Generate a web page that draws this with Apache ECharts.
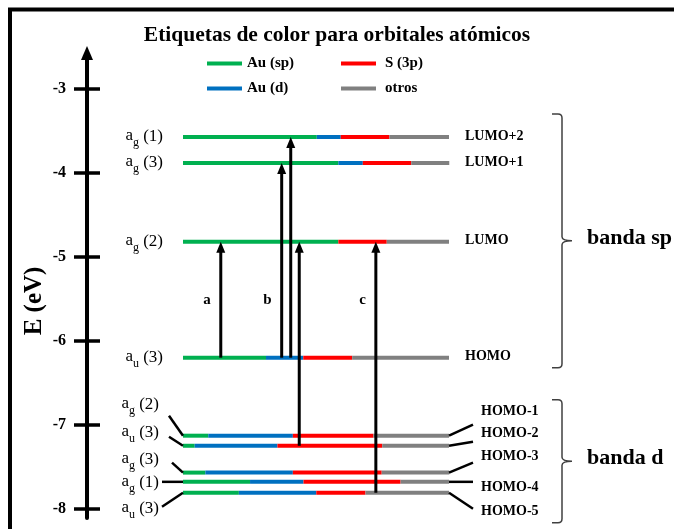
<!DOCTYPE html>
<html>
<head>
<meta charset="utf-8">
<script src="https://cdn.jsdelivr.net/npm/echarts@6/dist/echarts.min.js"></script>
<style>
  html, body { margin: 0; padding: 0; background: #fff; }
  #chart { width: 674px; height: 529px; }
</style>
</head>
<body>
<div id="chart"></div>
<script>
// ---- Molecular orbital levels (energy in eV) ----
const levelNames = ['LUMO+2', 'LUMO+1', 'LUMO', 'HOMO', 'HOMO-1', 'HOMO-2', 'HOMO-3', 'HOMO-4', 'HOMO-5'];
const levelEnergy = [-3.57, -3.88, -4.82, -6.20, -7.13, -7.25, -7.57, -7.68, -7.81];
const levelSym = ['g', 'g', 'g', 'u', 'g', 'u', 'g', 'g', 'u'];
const levelIdx = ['1', '3', '2', '3', '2', '3', '3', '1', '3'];

// Atomic-orbital makeup of each level (%)
const pctAuSp  = [50.3, 58.4, 58.4, 31.2,  9.5,  4.4,  8.4, 25.2, 21.0];
const pctAuD   = [ 9.0,  9.2,  0.0, 14.0, 31.8, 31.1, 32.9, 20.1, 29.1];
const pctS3p   = [18.3, 18.2, 18.2, 18.4, 30.3, 39.4, 33.4, 36.5, 18.5];
const pctOtros = [22.4, 14.3, 23.4, 36.4, 28.4, 25.1, 25.4, 18.2, 31.4];
const orbitalNames = ['Au (sp)', 'Au (d)', 'S (3p)', 'otros'];

// Electronic transitions
const transFrom  = ['HOMO', 'HOMO', 'HOMO', 'HOMO-2', 'HOMO-5'];
const transTo    = ['LUMO', 'LUMO+1', 'LUMO+2', 'LUMO', 'LUMO'];
const transPos   = [14.2, 37.1, 40.5, 43.7, 72.5];   // position along the level (%)
const transLabel = ['a', 'b', '', '', 'c'];

// Bands
const bandNames = ['banda sp', 'banda d'];
const bandFirst = ['LUMO+2', 'HOMO-1'];
const bandLast  = ['HOMO', 'HOMO-5'];

const energyTicks = [-8, -7, -6, -5, -4, -3];

// ---- Styling / layout ----
const SERIF = '"Liberation Serif", "Times New Roman", serif';
const orbitalColors = ['#00B050', '#0070C0', '#FF0000', '#808080'];
const Y_MIN = -8.111, Y_MAX = -2.569;
const pctSeries = [pctAuSp, pctAuD, pctS3p, pctOtros];
const lvl = name => levelNames.indexOf(name);

// the crowded d-band labels fan out; pixel offsets per level (HOMO-1 .. HOMO-5)
const fanLeftLabelDy  = [-31, -13, -13, 1, 16];
const fanLeftConn     = [[-14, -20], [-14, -9], [-11, -10], [-21, 0], [-21, 14]];
const fanRightConn    = [[24, -11], [24, -4], [24, -10], [24, 0], [24, 16]];
const fanRightLabelDy = [-24, -12, -16, 6, 19];
const bandPad = [[23, 10], [36, 30]];

const measureCtx = document.createElement('canvas').getContext('2d');
function textWidth(text, font) { measureCtx.font = font; return measureCtx.measureText(text).width; }

function segmentSeries(k) {
  const data = levelEnergy.map((e, i) => {
    let start = 0;
    for (let j = 0; j < k; j++) start += pctSeries[j][i];
    return [start, start + pctSeries[k][i], e];
  });
  return {
    type: 'custom', name: orbitalNames[k], z: 2,
    itemStyle: { color: orbitalColors[k] },
    encode: { x: [0, 1], y: 2 },
    data: data,
    renderItem: function (params, api) {
      const a = api.coord([api.value(0), api.value(2)]);
      const b = api.coord([api.value(1), api.value(2)]);
      if (b[0] - a[0] < 0.5) return null;
      return { type: 'line', shape: { x1: a[0], y1: a[1], x2: b[0], y2: b[1] },
               style: { stroke: orbitalColors[k], lineWidth: 4, lineCap: 'butt' } };
    }
  };
}

// left "a_g (n)" labels, right HOMO/LUMO labels and the fan connectors
const labelSeries = {
  type: 'custom', name: 'labels', z: 3, silent: true,
  data: levelEnergy.map((e, i) => [0, e, i]),
  encode: { x: 0, y: 1 },
  renderItem: function (params, api) {
    const i = api.value(2);
    const pL = api.coord([0, api.value(1)]);
    const pR = api.coord([100, api.value(1)]);
    const f = i - lvl('HOMO-1');
    const inFan = f >= 0;
    const children = [];
    // symmetry label a_x (n)
    const fBig = 'normal 17px ' + SERIF, fSub = 'normal 12px ' + SERIF;
    const tail = ' (' + levelIdx[i] + ')';
    const wTail = textWidth(tail, fBig), wSub = textWidth(levelSym[i], fSub);
    const xr = pL[0] - (inFan ? 24 : 20);
    const yl = pL[1] + (inFan ? fanLeftLabelDy[f] : 0);
    children.push({ type: 'text', x: xr, y: yl, style: { text: tail, font: fBig, fill: '#000', align: 'right', verticalAlign: 'middle' } });
    children.push({ type: 'text', x: xr - wTail, y: yl + 6, style: { text: levelSym[i], font: fSub, fill: '#000', align: 'right', verticalAlign: 'middle' } });
    children.push({ type: 'text', x: xr - wTail - wSub, y: yl - 1, style: { text: 'a', font: fBig, fill: '#000', align: 'right', verticalAlign: 'middle' } });
    // orbital name on the right
    const xRight = pR[0] + (inFan ? 32 : 16);
    const yRight = pR[1] + (inFan ? fanRightLabelDy[f] : -1);
    children.push({ type: 'text', x: xRight, y: yRight, style: { text: levelNames[i], font: 'bold 14px ' + SERIF, fill: '#000', align: 'left', verticalAlign: 'middle' } });
    if (inFan) {
      children.push({ type: 'line', shape: { x1: pL[0] + fanLeftConn[f][0], y1: pL[1] + fanLeftConn[f][1], x2: pL[0], y2: pL[1] },
                      style: { stroke: '#000', lineWidth: 2.5 } });
      children.push({ type: 'line', shape: { x1: pR[0], y1: pR[1], x2: pR[0] + fanRightConn[f][0], y2: pR[1] + fanRightConn[f][1] },
                      style: { stroke: '#000', lineWidth: 2.5 } });
    }
    return { type: 'group', children: children };
  }
};

// excitation arrows
const transitionSeries = {
  type: 'custom', name: 'transitions', z: 4, silent: true,
  data: transPos.map((x, t) => [x, levelEnergy[lvl(transFrom[t])], levelEnergy[lvl(transTo[t])], t]),
  encode: { x: 0, y: [1, 2] },
  renderItem: function (params, api) {
    const t = api.value(3);
    const p0 = api.coord([api.value(0), api.value(1)]);
    const p1 = api.coord([api.value(0), api.value(2)]);
    const headLen = 11, headHalf = 4.5;
    const children = [
      { type: 'line', shape: { x1: p0[0], y1: p0[1], x2: p1[0], y2: p1[1] + headLen - 1 }, style: { stroke: '#000', lineWidth: 3 } },
      { type: 'polygon', shape: { points: [[p1[0], p1[1]], [p1[0] - headHalf, p1[1] + headLen], [p1[0] + headHalf, p1[1] + headLen]] }, style: { fill: '#000' } }
    ];
    if (transLabel[t]) {
      const midE = (levelEnergy[lvl('HOMO')] + levelEnergy[lvl('LUMO')]) / 2;
      const pm = api.coord([api.value(0), midE]);
      children.push({ type: 'text', x: pm[0] - 10, y: pm[1], style: { text: transLabel[t], font: 'bold 15px ' + SERIF, fill: '#000', align: 'right', verticalAlign: 'middle' } });
    }
    return { type: 'group', children: children };
  }
};

// band brackets on the right
const bandSeries = {
  type: 'custom', name: 'bands', z: 3, silent: true,
  data: bandNames.map((n, b) => [100, levelEnergy[lvl(bandFirst[b])], levelEnergy[lvl(bandLast[b])], b]),
  encode: { x: 0, y: [1, 2] },
  renderItem: function (params, api) {
    const b = api.value(3);
    const top = api.coord([100, api.value(1)]);
    const bot = api.coord([100, api.value(2)]);
    const y0 = top[1] - bandPad[b][0], y1 = bot[1] + bandPad[b][1], ym = (y0 + y1) / 2;
    const xv = top[0] + 113, xs = xv - 10, xt = xv + 10;
    const path = 'M' + xs + ' ' + y0 + ' L' + (xv - 4) + ' ' + y0 + ' Q' + xv + ' ' + y0 + ' ' + xv + ' ' + (y0 + 4) +
      ' L' + xv + ' ' + (ym - 4) + ' Q' + xv + ' ' + ym + ' ' + xt + ' ' + ym +
      ' M' + xt + ' ' + ym + ' Q' + xv + ' ' + ym + ' ' + xv + ' ' + (ym + 4) +
      ' L' + xv + ' ' + (y1 - 4) + ' Q' + xv + ' ' + y1 + ' ' + (xv - 4) + ' ' + y1 + ' L' + xs + ' ' + y1;
    return { type: 'group', children: [
      { type: 'path', shape: { pathData: path }, style: { stroke: '#404040', lineWidth: 1.5, fill: null } },
      { type: 'text', x: xv + 25, y: ym - 3, style: { text: bandNames[b], font: 'bold 22px ' + SERIF, fill: '#000', align: 'left', verticalAlign: 'middle' } }
    ] };
  }
};

const chart = echarts.init(document.getElementById('chart'));
const legendText = { fontFamily: SERIF, fontWeight: 'bold', fontSize: 15, color: '#000' };
chart.setOption({
  animation: false,
  title: {
    text: 'Etiquetas de color para orbitales atómicos', left: 'center', top: 19,
    textStyle: { fontFamily: SERIF, fontWeight: 'bold', fontSize: 21.5, color: '#000' }
  },
  legend: [
    { data: ['Au (sp)', 'Au (d)'], orient: 'vertical', left: 202, top: 51, icon: 'rect', itemWidth: 35, itemHeight: 4,
      itemGap: 10, selectedMode: false, textStyle: Object.assign({}, legendText) },
    { data: ['S (3p)', 'otros'], orient: 'vertical', left: 336, top: 51, icon: 'rect', itemWidth: 35, itemHeight: 4,
      itemGap: 10, selectedMode: false, textStyle: Object.assign({ padding: [0, 0, 0, 4] }, legendText) }
  ],
  grid: { left: 183, right: 225, top: 53, bottom: 11, containLabel: false },
  xAxis: { type: 'value', min: 0, max: 100, show: false },
  yAxis: [
    { type: 'value', min: Y_MIN, max: Y_MAX, position: 'left', offset: 96,
      axisLine: { show: true, onZero: false, lineStyle: { color: '#000', width: 4 }, symbol: ['none', 'triangle'], symbolSize: [12, 14] },
      axisTick: { show: true, length: 13, lineStyle: { color: '#000', width: 3.5 }, customValues: energyTicks },
      axisLabel: { show: true, customValues: energyTicks, margin: 21, color: '#000', fontFamily: SERIF, fontWeight: 'bold', fontSize: 16,
                   formatter: v => String(Math.round(v)) },
      splitLine: { show: false } },
    { type: 'value', min: Y_MIN, max: Y_MAX, position: 'left', offset: 96,
      axisLine: { show: false, onZero: false },
      axisTick: { show: true, inside: true, length: 13, lineStyle: { color: '#000', width: 3.5 }, customValues: energyTicks },
      axisLabel: { show: false }, splitLine: { show: false } }
  ],
  graphic: [
    { type: 'line', shape: { x1: 8, y1: 9.5, x2: 674, y2: 9.5 }, style: { stroke: '#000', lineWidth: 4 } },
    { type: 'line', shape: { x1: 10, y1: 8, x2: 10, y2: 529 }, style: { stroke: '#000', lineWidth: 4 } },
    { type: 'text', x: 35, y: 301, rotation: Math.PI / 2,
      style: { text: 'E (eV)', font: 'bold 25px ' + SERIF, fill: '#000', align: 'center', verticalAlign: 'middle' } }
  ],
  series: [segmentSeries(0), segmentSeries(1), segmentSeries(2), segmentSeries(3), labelSeries, transitionSeries, bandSeries]
});
</script>
</body>
</html>
